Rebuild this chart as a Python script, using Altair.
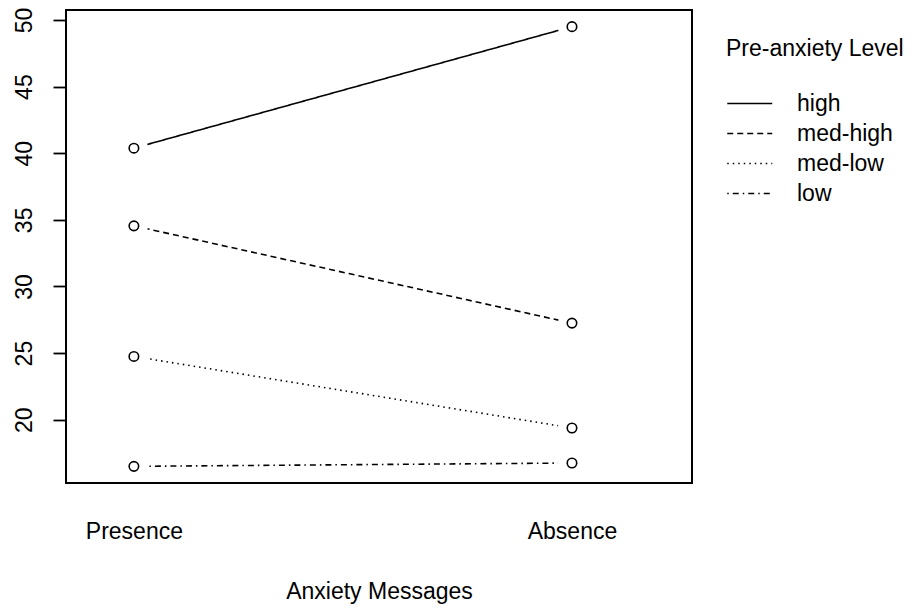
import altair as alt
import pandas as pd

levels = ["high", "med-high", "med-low", "low"]
messages = ["Presence", "Absence"]
presence_vals = [40.38, 34.55, 24.75, 16.5]
absence_vals = [49.5, 27.25, 19.38, 16.75]
dash_patterns = [[1, 0], [6, 4], [1.5, 4], [1.5, 4, 6, 4]]
y_ticks = [20, 25, 30, 35, 40, 45, 50]

rows = []
for i, lev in enumerate(levels):
    for j, vals in enumerate([presence_vals, absence_vals]):
        rows.append({"level": lev, "pos": j + 1, "message": messages[j], "value": vals[i]})
df = pd.DataFrame(rows)

FONT = "Liberation Sans"
FS = 23

x = alt.X(
    "pos:Q",
    scale=alt.Scale(domain=[0.845, 2.274], nice=False, zero=False),
    axis=alt.Axis(
        values=[1, 2],
        labelExpr=f"datum.value == 1 ? '{messages[0]}' : '{messages[1]}'",
        ticks=False, domain=False, grid=False,
        labelFont=FONT, labelFontSize=FS, labelColor="black",
        labelBaseline="alphabetic", labelPadding=55,
        title="Anxiety Messages", titleFont=FONT, titleFontSize=FS,
        titleFontWeight="normal", titleColor="black",
        titleBaseline="alphabetic", titleY=115,
    ),
)
y = alt.Y(
    "value:Q",
    scale=alt.Scale(domain=[15.25, 50.75], nice=False, zero=False),
    axis=alt.Axis(
        values=y_ticks, labelAngle=270, labelAlign="center",
        labelBaseline="alphabetic", labelPadding=22,
        tickSize=13, tickWidth=1.8, tickColor="black",
        domain=False, grid=False,
        labelFont=FONT, labelFontSize=FS, labelColor="black",
        title=None,
    ),
)

base = alt.Chart(df)

lines = base.mark_line(color="black", strokeWidth=1.6).encode(
    x=x, y=y,
    strokeDash=alt.StrokeDash(
        "level:N",
        scale=alt.Scale(domain=levels, range=dash_patterns),
        legend=alt.Legend(
            orient="none", legendX=660, legendY=28,
            title="Pre-anxiety Level", titleFont=FONT, titleFontSize=FS,
            titleFontWeight="normal", titleColor="black", titlePadding=30,
            labelFont=FONT, labelFontSize=FS, labelColor="black",
            symbolType="M-1,0L3,0", symbolSize=506, symbolStrokeWidth=1.6,
            symbolStrokeColor="black", labelOffset=46, padding=0,
            rowPadding=5,
        ),
    ),
)
mask = base.mark_point(shape="circle", filled=True, fill="white", opacity=1,
                       size=784, strokeWidth=0).encode(x=x, y=y)
points = base.mark_point(shape="circle", filled=False, color="black", opacity=1,
                         size=90, strokeWidth=1.6).encode(x=x, y=y)

chart = alt.layer(lines, mask, points).properties(
    width=626, height=473,
    padding={"left": 58, "top": 2, "right": 219, "bottom": 124},
    autosize=alt.AutoSizeParams(type="none"),
    background="white",
).configure_view(stroke="black", strokeWidth=2)

chart.save("out.html", embed_options={"renderer": "svg", "actions": False})
